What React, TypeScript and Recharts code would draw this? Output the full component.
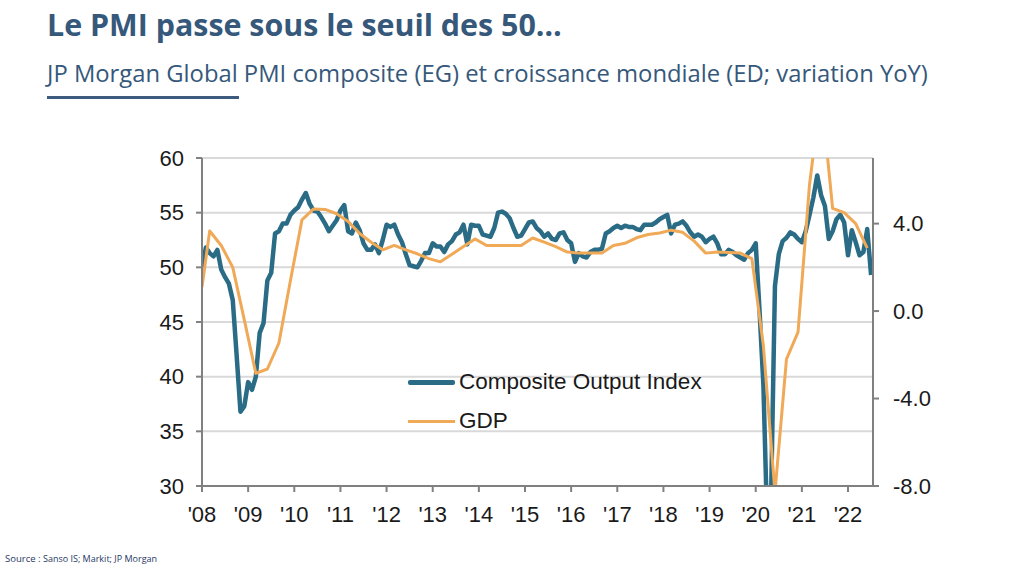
import React from "react"
import {
  LineChart,
  Line,
  XAxis,
  YAxis,
  CartesianGrid,
} from "recharts"

// ============ Data ============
// JP Morgan Global Composite PMI, monthly, Jan 2008 -> Jul 2022
const pmi2008 = [50.0, 51.8, 51.3, 51.0, 51.6, 49.8, 49.1, 48.5, 47.0, 42.0, 36.8, 37.3]
const pmi2009 = [39.5, 38.8, 40.0, 44.0, 44.9, 48.8, 49.5, 53.1, 53.3, 54.0, 54.0, 54.8]
const pmi2010 = [55.2, 55.5, 56.2, 56.8, 55.8, 55.2, 55.1, 54.6, 54.0, 53.3, 53.8, 54.3]
const pmi2011 = [55.2, 55.7, 53.3, 53.1, 54.1, 53.4, 52.2, 51.6, 51.6, 52.1, 51.3, 52.5]
const pmi2012 = [53.9, 53.7, 53.9, 53.0, 52.3, 51.2, 50.2, 50.1, 50.0, 50.6, 51.3, 51.3]
const pmi2013 = [52.2, 51.9, 51.9, 51.4, 52.1, 52.4, 53.0, 53.2, 53.9, 52.1, 53.9, 53.8]
const pmi2014 = [53.8, 53.0, 52.9, 52.8, 53.6, 55.0, 55.1, 54.9, 54.5, 53.6, 52.8, 52.9]
const pmi2015 = [53.5, 54.1, 54.2, 53.6, 53.3, 52.8, 53.1, 52.6, 52.5, 53.1, 53.2, 52.5]
const pmi2016 = [52.2, 50.5, 51.3, 51.0, 50.9, 51.4, 51.6, 51.6, 51.7, 53.1, 53.3, 53.6]
const pmi2017 = [53.8, 53.6, 53.8, 53.7, 53.7, 53.5, 53.4, 53.9, 53.9, 53.9, 54.1, 54.4]
const pmi2018 = [54.6, 54.8, 53.1, 53.9, 54.0, 54.2, 53.8, 53.2, 52.8, 53.0, 52.8, 52.3]
const pmi2019 = [52.6, 52.8, 52.2, 51.2, 51.2, 51.6, 51.4, 51.1, 50.9, 50.7, 51.3, 51.6]
const pmi2020 = [52.2, 46.0, 39.2, 26.2, 29.0, 48.3, 51.2, 52.4, 52.7, 53.2, 53.0, 52.6]
const pmi2021 = [52.3, 53.3, 54.8, 56.4, 58.4, 56.6, 55.6, 52.6, 53.3, 54.4, 54.8, 54.1]
const pmi2022 = [51.1, 53.4, 52.3, 51.1, 51.4, 53.5, 49.3]

// world GDP growth YoY, quarterly (plotted at quarter end), plus the first value of the series
const gdpStart = 1.1
const gdpQuarterly = [
  3.66, 3.0, 2.0, -0.4, -2.85, -2.65, -1.46, 1.4, 4.17, 4.67, 4.65, 4.45,
  4.1, 3.55, 3.15, 2.8, 3.0, 2.8, 2.62, 2.4, 2.25, 2.6, 2.95, 3.3,
  3.0, 3.0, 3.0, 3.0, 3.34, 3.15, 2.95, 2.7, 2.65, 2.65, 2.65, 3.0,
  3.1, 3.35, 3.5, 3.57, 3.7, 3.6, 3.2, 2.65, 2.7, 2.68, 2.65, 2.4,
  -1.6, -8.3, -2.2, -0.96, 5.8, 10.0, 4.7, 4.5, 4.0, 2.88,
]

const yearLabels = ["'08", "'09", "'10", "'11", "'12", "'13", "'14", "'15", "'16", "'17", "'18", "'19", "'20", "'21", "'22"]
const pmiTicks = [30, 35, 40, 45, 50, 55, 60]
const gdpTicks = [-8, -4, 0, 4]

const pmi = [
  ...pmi2008, ...pmi2009, ...pmi2010, ...pmi2011, ...pmi2012,
  ...pmi2013, ...pmi2014, ...pmi2015, ...pmi2016, ...pmi2017,
  ...pmi2018, ...pmi2019, ...pmi2020, ...pmi2021, ...pmi2022,
]

const data = pmi.map((v, i) => ({
  i,
  pmi: v,
  gdp: i === 0 ? gdpStart : (i - 2) % 3 === 0 ? gdpQuarterly[(i - 2) / 3] ?? null : null,
}))

// ============ Styles ============
const TEAL = "#2a6b86"
const ORANGE = "#efa957"
const NAVY = "#35587b"
const AXIS = "#808080"
const tickStyle = { fontSize: 22, fill: "#1a1a1a", fontFamily: "'Liberation Sans', Arial, sans-serif" }

export default function App() {
  return (
    <div
      style={{
        position: "absolute",
        left: 0,
        top: 0,
        width: 1024,
        height: 569,
        background: "#fff",
        overflow: "hidden",
        fontFamily: "'Open Sans', sans-serif",
      }}
    >
      <div
        style={{
          position: "absolute",
          left: 47,
          top: 10,
          fontSize: 30.4,
          lineHeight: "30px",
          fontWeight: 700,
          color: NAVY,
          whiteSpace: "nowrap",
        }}
      >
        Le PMI passe sous le seuil des 50…
      </div>
      <div
        style={{
          position: "absolute",
          left: 47,
          top: 61,
          fontSize: 23.8,
          lineHeight: "24px",
          color: NAVY,
          whiteSpace: "nowrap",
        }}
      >
        JP Morgan Global PMI composite (EG) et croissance mondiale (ED; variation YoY)
      </div>
      <div
        style={{
          position: "absolute",
          left: 47,
          top: 96,
          width: 192,
          height: 3,
          background: "#3d5b7e",
        }}
      />

      <div style={{ position: "absolute", left: 0, top: 0 }}>
        <LineChart
          width={1024}
          height={569}
          data={data}
          margin={{ top: 158, right: 91, bottom: 53, left: 142 }}
        >
          <CartesianGrid
            yAxisId="pmi"
            vertical={false}
            stroke="#d9d9d9"
            strokeWidth={2}
          />
          <XAxis
            dataKey="i"
            type="number"
            domain={[0, 174.5]}
            ticks={yearLabels.map((_, k) => k * 12)}
            tickFormatter={(v: number) => yearLabels[Math.round(v / 12)]}
            allowDataOverflow
            height={30}
            tick={tickStyle}
            tickSize={6}
            tickMargin={14}
            axisLine={{ stroke: AXIS, strokeWidth: 2 }}
            tickLine={{ stroke: AXIS, strokeWidth: 2 }}
          />
          <YAxis
            yAxisId="pmi"
            orientation="left"
            domain={[30, 60]}
            ticks={pmiTicks}
            allowDataOverflow
            width={60}
            tick={tickStyle}
            tickSize={6}
            tickMargin={12}
            axisLine={{ stroke: AXIS, strokeWidth: 2 }}
            tickLine={{ stroke: AXIS, strokeWidth: 2 }}
          />
          <YAxis
            yAxisId="gdp"
            orientation="right"
            domain={[-8, 7]}
            ticks={gdpTicks}
            tickFormatter={(v: number) => v.toFixed(1)}
            allowDataOverflow
            width={60}
            tick={tickStyle}
            tickSize={6}
            tickMargin={14}
            axisLine={{ stroke: AXIS, strokeWidth: 2 }}
            tickLine={{ stroke: AXIS, strokeWidth: 2 }}
          />
          <Line
            yAxisId="pmi"
            dataKey="pmi"
            stroke={TEAL}
            strokeWidth={4.5}
            strokeLinejoin="round"
            dot={false}
            isAnimationActive={false}
          />
          <Line
            yAxisId="gdp"
            dataKey="gdp"
            stroke={ORANGE}
            strokeWidth={3}
            strokeLinejoin="round"
            dot={false}
            connectNulls
            isAnimationActive={false}
          />
        </LineChart>
      </div>

      {/* legend inside the plot */}
      <div
        style={{
          position: "absolute",
          left: 408,
          top: 366,
          fontFamily: "'Liberation Sans', Arial, sans-serif",
          fontSize: 22.5,
          color: "#1a1a1a",
        }}
      >
        <div style={{ display: "flex", alignItems: "center", height: 32 }}>
          <div style={{ width: 47, height: 5, background: TEAL, borderRadius: 2 }} />
          <span style={{ marginLeft: 4 }}>Composite Output Index</span>
        </div>
        <div style={{ display: "flex", alignItems: "center", height: 32, marginTop: 7 }}>
          <div style={{ width: 47, height: 3, background: ORANGE }} />
          <span style={{ marginLeft: 4 }}>GDP</span>
        </div>
      </div>

      <div
        style={{
          position: "absolute",
          left: 5,
          top: 552,
          fontSize: 9.5,
          color: "#1f3864",
          whiteSpace: "nowrap",
        }}
      >
        Source : <span style={{ fontSize: 9 }}>Sanso IS; Markit; JP Morgan</span>
      </div>
    </div>
  )
}
